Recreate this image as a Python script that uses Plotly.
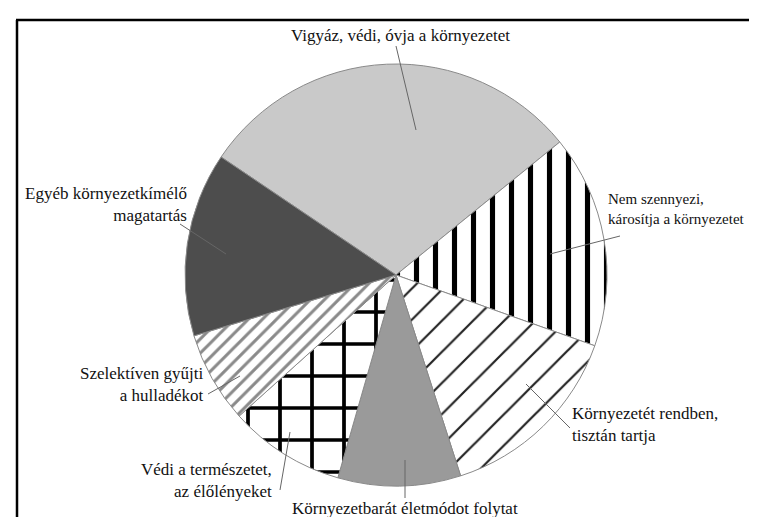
import plotly.graph_objects as go

# ---- data ----
categories = [
    "Vigyáz, védi, óvja a környezetet",
    "Nem szennyezi, károsítja a környezetet",
    "Környezetét rendben, tisztán tartja",
    "Környezetbarát életmódot folytat",
    "Védi a természetet, az élőlényeket",
    "Szelektíven gyűjti a hulladékot",
    "Egyéb környezetkímélő magatartás",
]
values = [29.7, 16.3, 14.6, 9.4, 8.9, 7.0, 14.1]

label_texts = [
    "Vigyáz, védi, óvja a környezetet",
    "Nem szennyezi,<br>károsítja a környezetet",
    "Környezetét rendben,<br>tisztán tartja",
    "Környezetbarát életmódot folytat",
    "Védi a természetet,<br>az élőlényeket",
    "Szelektíven gyűjti<br>a hulladékot",
    "Egyéb környezetkímélő<br>magatartás",
]

# ---- style ----
W, H = 757, 517
colors = ["#c9c9c9", "#ffffff", "#ffffff", "#9a9a9a", "#ffffff", "#ffffff", "#4d4d4d"]
shapes_p = ["", "|", "/", "", "+", "/", ""]
fgcols = ["#000", "#000", "#222", "#000", "#000", "#8a8a8a", "#000"]
psizes = [10, 19, 22, 10, 32, 10, 10]
solids = [0.2, 0.27, 0.1, 0.2, 0.22, 0.3, 0.2]

cx, cy, r = 388, 267, 211
FONT = "Liberation Serif"

def px(x):
    return x / W

def py(y):
    return 1 - y / H

fig = go.Figure(go.Pie(
    labels=categories,
    values=values,
    sort=False,
    direction="clockwise",
    rotation=304,
    textinfo="none",
    hoverinfo="label+percent",
    marker=dict(
        colors=colors,
        line=dict(color="#8a8a8a", width=1),
        pattern=dict(shape=shapes_p, fgcolor=fgcols, size=psizes,
                     solidity=solids, fillmode="replace"),
    ),
    domain=dict(x=[px(cx - r), px(cx + r)], y=[py(cy + r), py(cy - r)]),
    showlegend=False,
))

# label placement: (text x, text y, xanchor, align, font size, leader start, leader end)
label_pos = [
    (392, 28, "center", "center", 17, (388, 38), (408, 122)),
    (598, 201, "left", "left", 15, (612, 228), (542, 246)),
    (562, 416, "left", "left", 17, (562, 420), (518, 376)),
    (397, 500, "center", "center", 17, (397, 490), (397, 452)),
    (266, 472, "right", "right", 17, (272, 482), (282, 424)),
    (198, 376, "right", "right", 17, (200, 386), (232, 368)),
    (181, 197, "right", "right", 17, (172, 216), (218, 246)),
]

annotations = []
shapes = []
for txt, (tx, ty, xa, al, fs, p0, p1) in zip(label_texts, label_pos):
    annotations.append(dict(
        x=px(tx), y=py(ty), xref="paper", yref="paper",
        text=txt, showarrow=False, xanchor=xa, yanchor="middle", align=al,
        font=dict(family=FONT, size=fs, color="#111"),
    ))
    shapes.append(dict(
        type="line", xref="paper", yref="paper",
        x0=px(p0[0]), y0=py(p0[1]), x1=px(p1[0]), y1=py(p1[1]),
        line=dict(color="#666", width=1),
    ))

# frame
shapes.append(dict(type="line", xref="paper", yref="paper",
                   x0=px(8), y0=py(12), x1=px(760), y1=py(12),
                   line=dict(color="black", width=2.5)))
shapes.append(dict(type="line", xref="paper", yref="paper",
                   x0=px(9), y0=py(12), x1=px(9), y1=py(520),
                   line=dict(color="black", width=2.5)))

fig.update_layout(
    width=W, height=H,
    margin=dict(l=0, r=0, t=0, b=0),
    paper_bgcolor="white", plot_bgcolor="white",
    font=dict(family=FONT),
    annotations=annotations, shapes=shapes,
)

fig.write_html("out.html")
